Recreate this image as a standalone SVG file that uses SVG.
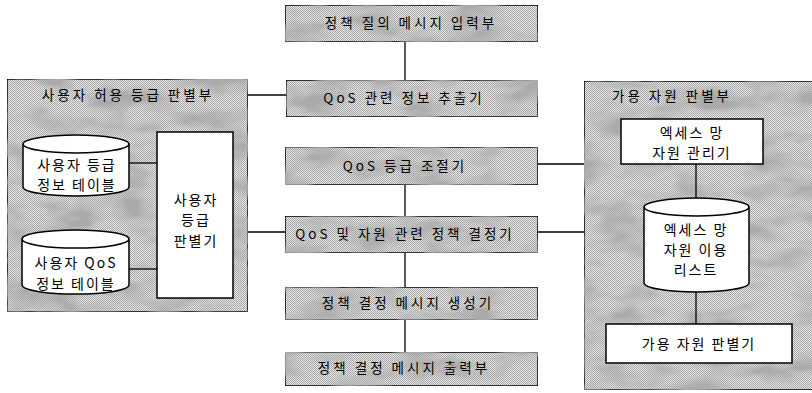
<svg xmlns="http://www.w3.org/2000/svg" width="812" height="393" viewBox="0 0 812 393">
<defs>
<pattern id="dither" width="2" height="2" patternUnits="userSpaceOnUse">
<rect width="2" height="2" fill="#e6e6e6"/>
<rect width="1" height="1" fill="#a8a8a8"/>
<rect x="1" y="1" width="1" height="1" fill="#a8a8a8"/>
</pattern>
<filter id="cloud" x="0" y="0" width="100%" height="100%">
<feTurbulence type="fractalNoise" baseFrequency="0.02 0.045" numOctaves="3" seed="4" result="n"/>
<feColorMatrix in="n" type="matrix" values="0 0 0 0 0.4  0 0 0 0 0.4  0 0 0 0 0.4  3 0 0 0 -1.3" result="c"/>
<feComposite in="c" in2="SourceGraphic" operator="in" result="cc"/>
<feMerge><feMergeNode in="SourceGraphic"/><feMergeNode in="cc"/></feMerge>
</filter>
<style>
.tex{fill:url(#dither);stroke:#000;stroke-width:1.5;filter:url(#cloud)}
.wb{fill:#fff;stroke:#000;stroke-width:1.5}
.ln{stroke:#000;stroke-width:1.3;fill:none}
text{font-family:"Noto Sans CJK KR","Noto Sans",sans-serif;font-size:14px;fill:#000;text-anchor:middle;letter-spacing:2px}
.t{font-size:13.5px;letter-spacing:3px}
</style>
</defs>
<rect width="812" height="393" fill="#fff"/>

<g id="user-grade-unit">
<rect class="tex" x="7" y="79" width="241" height="233"/>
<text class="t" x="128" y="100">사용자 허용 등급 판별부</text>
</g>
<g id="user-grade-table">
<path class="wb" d="M23,144 L23,187 A53,9 0 0 0 129,187 L129,144 A53,9 0 0 0 23,144 A53,9 0 0 0 129,144"/>
<text x="77" y="170">사용자 등급</text>
<text x="77" y="190">정보 테이블</text>
</g>
<g id="user-qos-table">
<path class="wb" d="M22,239 L22,285 A53,9 0 0 0 129,285 L129,239 A53,9 0 0 0 22,239 A53,9 0 0 0 129,239"/>
<text x="76" y="268">사용자 QoS</text>
<text x="76" y="289">정보 테이블</text>
</g>
<g id="user-grade-judge">
<rect class="wb" x="157" y="132" width="76" height="166"/>
<text x="196" y="205">사용자</text>
<text x="196" y="225">등급</text>
<text x="196" y="246">판별기</text>
</g>

<g id="policy-query-input">
<rect class="tex" x="285" y="5" width="253" height="37"/>
<text class="t" x="411" y="28">정책 질의 메시지 입력부</text>
</g>
<g id="qos-info-extractor">
<rect class="tex" x="286" y="80" width="252" height="37"/>
<text class="t" x="404" y="103">QoS 관련 정보 추출기</text>
</g>
<g id="qos-grade-adjuster">
<rect class="tex" x="285" y="147" width="253" height="38"/>
<text class="t" x="405" y="171">QoS 등급 조절기</text>
</g>
<g id="policy-decider">
<rect class="tex" x="285" y="216" width="253" height="37"/>
<text class="t" x="405" y="239">QoS 및 자원 관련 정책 결정기</text>
</g>
<g id="decision-msg-generator">
<rect class="tex" x="285" y="287" width="253" height="33"/>
<text class="t" x="408" y="308">정책 결정 메시지 생성기</text>
</g>
<g id="decision-msg-output">
<rect class="tex" x="285" y="352" width="253" height="34"/>
<text class="t" x="404" y="373">정책 결정 메시지 출력부</text>
</g>

<g id="available-resource-unit">
<rect class="tex" x="584" y="81" width="232" height="309"/>
<text class="t" x="672" y="101">가용 자원 판별부</text>
</g>
<g id="access-resource-manager">
<rect class="wb" x="621" y="119" width="142" height="45"/>
<text x="692" y="138">엑세스 망</text>
<text x="692" y="158">자원 관리기</text>
</g>
<g id="access-resource-list">
<path class="wb" d="M644,207 L644,283 A52.5,9 0 0 0 749,283 L749,207 A52.5,9 0 0 0 644,207 A52.5,9 0 0 0 749,207"/>
<text x="696" y="235">엑세스 망</text>
<text x="696" y="255">자원 이용</text>
<text x="696" y="275">리스트</text>
</g>
<g id="available-resource-judge">
<rect class="wb" x="606" y="324" width="186" height="39"/>
<text x="699" y="349">가용 자원 판별기</text>
</g>

<g id="connectors">
<line class="ln" x1="405" y1="42" x2="405" y2="80"/>
<line class="ln" x1="248" y1="95" x2="286" y2="95"/>
<line class="ln" x1="538" y1="164" x2="584" y2="164"/>
<line class="ln" x1="405" y1="185" x2="405" y2="216"/>
<line class="ln" x1="248" y1="232" x2="285" y2="232"/>
<line class="ln" x1="538" y1="232" x2="584" y2="232"/>
<line class="ln" x1="405" y1="253" x2="405" y2="287"/>
<line class="ln" x1="405" y1="320" x2="405" y2="352"/>
<line class="ln" x1="129" y1="163" x2="157" y2="163"/>
<line class="ln" x1="129" y1="269" x2="157" y2="269"/>
<line class="ln" x1="696" y1="164" x2="696" y2="198"/>
<line class="ln" x1="696" y1="292" x2="696" y2="324"/>
</g>
</svg>
